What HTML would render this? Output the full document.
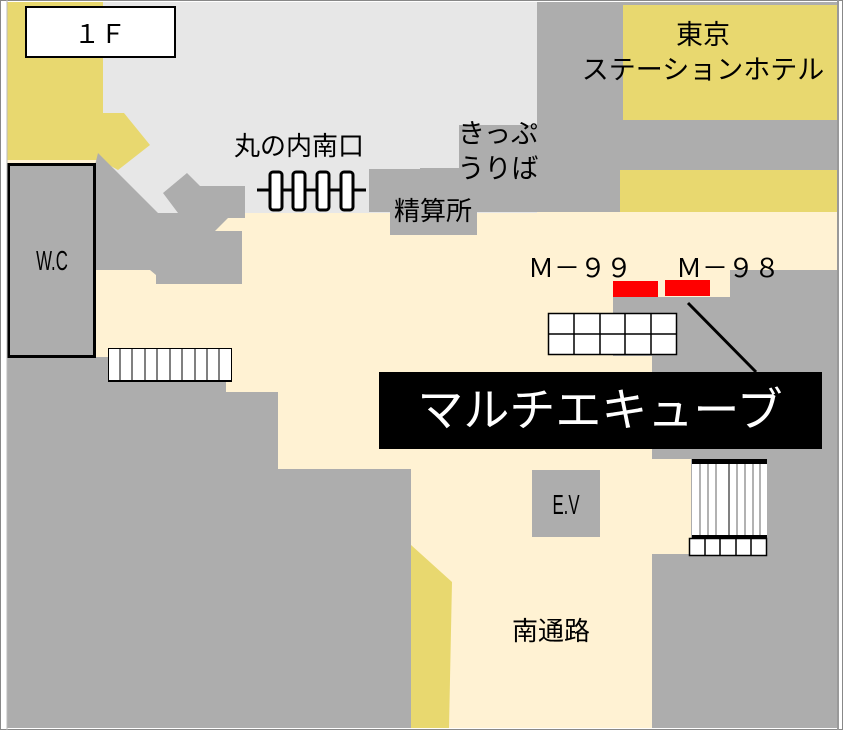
<!DOCTYPE html>
<html><head><meta charset="utf-8"><style>
html,body{margin:0;padding:0;background:#fff;}
svg{display:block;}
text{font-family:"Liberation Sans","Noto Sans CJK JP",sans-serif;fill:#000;}
</style></head><body>
<svg width="843" height="730" viewBox="0 0 843 730" xmlns="http://www.w3.org/2000/svg">
<rect x="0" y="0" width="843" height="730" fill="#fff"/>
<rect x="7" y="2" width="831" height="726" fill="#FFF2D3"/>
<rect x="103" y="2" width="434" height="211" fill="#E7E7E7"/>
<rect x="459" y="125" width="78" height="45" fill="#ADADAD"/>
<polygon points="7,2 103,2 103,113 124,113 150,145 118,170 100,160 7,160" fill="#E8D86F"/>
<rect x="537" y="2" width="301" height="210" fill="#ADADAD"/>
<rect x="623" y="5" width="215" height="115" fill="#E8D86F"/>
<rect x="620" y="170" width="218" height="42" fill="#E8D86F"/>
<rect x="420" y="168" width="200" height="44" fill="#ADADAD"/>
<rect x="369" y="169" width="108" height="43" fill="#ADADAD"/>
<rect x="390" y="169" width="87" height="66" fill="#ADADAD"/>
<polygon points="95,165 98,153 158,213 178,213 163,193 187,173 200,186 245,186 245,218 228,218 215,231 242,231 242,284 156,284 156,275 150,270 95,270" fill="#ADADAD"/>
<polygon points="730,270 838,270 838,728 652,728 652,554 691,554 691,459 652,459 652,356 613,356 613,297 730,297" fill="#ADADAD"/>
<polygon points="7,357 108,357 108,382 226,382 226,392 278,392 278,469 411,469 411,728 7,728" fill="#ADADAD"/>
<polygon points="411,545 452,582 449,728 411,728" fill="#E8D86F"/>
<rect x="26" y="7" width="149" height="50" fill="#fff" stroke="#000" stroke-width="2"/>
<text x="100" y="43" font-size="26" text-anchor="middle">１Ｆ</text>
<rect x="8.5" y="164.5" width="86" height="192" fill="#ADADAD" stroke="#000" stroke-width="3"/>
<text x="52" y="270" font-size="28" text-anchor="middle" transform="translate(52,0) scale(0.6,1) translate(-52,0)">W.C</text>
<g stroke="#000" stroke-width="3" fill="#fff">
<line x1="257" y1="190" x2="366" y2="190"/>
<rect x="270" y="172" width="12" height="38" rx="3"/>
<rect x="293" y="172" width="12" height="38" rx="3"/>
<rect x="317" y="172" width="12" height="38" rx="3"/>
<rect x="341" y="172" width="12" height="38" rx="3"/>
</g>
<text x="299" y="155" font-size="26" text-anchor="middle">丸の内南口</text>
<text x="433" y="220" font-size="26" text-anchor="middle">精算所</text>
<text x="498" y="143" font-size="27" text-anchor="middle">きっぷ</text>
<text x="498" y="178" font-size="27" text-anchor="middle">うりば</text>
<text x="703" y="44" font-size="27" text-anchor="middle">東京</text>
<text x="703" y="79" font-size="27" text-anchor="middle">ステーションホテル</text>
<text x="580" y="277" font-size="26" text-anchor="middle">Ｍ－９９</text>
<text x="728" y="277" font-size="26" text-anchor="middle">Ｍ－９８</text>
<rect x="613" y="281" width="45" height="16" fill="#FF0000"/>
<rect x="665" y="280" width="45" height="16" fill="#FF0000"/>
<g stroke="#000" stroke-width="1.5" fill="#fff">
<rect x="548.5" y="313.5" width="128" height="41"/>
<line x1="548" y1="334" x2="677" y2="334"/>
<line x1="574" y1="313" x2="574" y2="355"/>
<line x1="600" y1="313" x2="600" y2="355"/>
<line x1="625" y1="313" x2="625" y2="355"/>
<line x1="651" y1="313" x2="651" y2="355"/>
</g>
<line x1="688" y1="303" x2="756" y2="372" stroke="#000" stroke-width="3"/>
<rect x="379" y="372" width="443" height="77" fill="#000"/>
<text x="600" y="426" font-size="46" text-anchor="middle" style="fill:#fff">マルチエキューブ</text>
<g stroke="#000" stroke-width="1" fill="#fff">
<rect x="108.5" y="348.5" width="123" height="32"/>
<line x1="120" y1="348" x2="120" y2="381"/><line x1="132" y1="348" x2="132" y2="381"/>
<line x1="145" y1="348" x2="145" y2="381"/><line x1="157" y1="348" x2="157" y2="381"/>
<line x1="170" y1="348" x2="170" y2="381"/><line x1="182" y1="348" x2="182" y2="381"/>
<line x1="195" y1="348" x2="195" y2="381"/><line x1="207" y1="348" x2="207" y2="381"/>
<line x1="219" y1="348" x2="219" y2="381"/>
</g>
<line x1="108" y1="381" x2="232" y2="381" stroke="#000" stroke-width="2"/>
<rect x="692" y="459" width="75" height="78" fill="#fff"/>
<rect x="692" y="459" width="75" height="5" fill="#000"/>
<g stroke="#999" stroke-width="1.5">
<line x1="700" y1="464" x2="700" y2="536"/><line x1="708" y1="464" x2="708" y2="536"/>
<line x1="716" y1="464" x2="716" y2="536"/><line x1="737" y1="464" x2="737" y2="536"/>
<line x1="745" y1="464" x2="745" y2="536"/><line x1="753" y1="464" x2="753" y2="536"/>
<line x1="760" y1="464" x2="760" y2="536"/>
</g>
<line x1="729" y1="464" x2="729" y2="536" stroke="#000" stroke-width="1"/>
<rect x="692" y="535" width="75" height="3" fill="#000"/>
<g stroke="#000" stroke-width="1.5" fill="#fff">
<rect x="689.5" y="538.5" width="77" height="17"/>
<line x1="705" y1="538" x2="705" y2="556"/><line x1="720" y1="538" x2="720" y2="556"/>
<line x1="736" y1="538" x2="736" y2="556"/><line x1="751" y1="538" x2="751" y2="556"/>
</g>
<rect x="532" y="470" width="68" height="67" fill="#ADADAD"/>
<text x="566" y="514" font-size="28" text-anchor="middle" transform="translate(566,0) scale(0.6,1) translate(-566,0)">E.V</text>
<text x="551" y="640" font-size="26" text-anchor="middle">南通路</text>
<rect x="0.5" y="0.5" width="842" height="729" fill="none" stroke="#888" stroke-width="1"/>
<line x1="838" y1="0" x2="838" y2="730" stroke="#999" stroke-width="2"/>
<line x1="7" y1="0" x2="7" y2="730" stroke="#bbb" stroke-width="1"/>
</svg>
</body></html>
